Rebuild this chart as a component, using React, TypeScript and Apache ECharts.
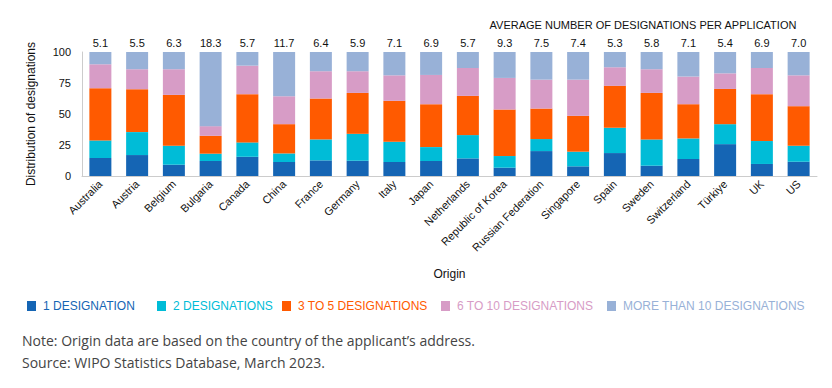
import React, { useEffect, useRef } from "react";
import * as echarts from "echarts";

const categories = [
  "Australia", "Austria", "Belgium", "Bulgaria", "Canada", "China", "France",
  "Germany", "Italy", "Japan", "Netherlands", "Republic of Korea",
  "Russian Federation", "Singapore", "Spain", "Sweden", "Switzerland",
  "Türkiye", "UK", "US",
];

const averages = [
  "5.1", "5.5", "6.3", "18.3", "5.7", "11.7", "6.4", "5.9", "7.1", "6.9",
  "5.7", "9.3", "7.5", "7.4", "5.3", "5.8", "7.1", "5.4", "6.9", "7.0",
];

const oneDesignation = [14.5, 16.9, 9.1, 12.1, 15.5, 11.3, 12.6, 12.3, 11.3, 12.1, 14.2, 6.7, 20.1, 7.8, 18.5, 8.3, 13.7, 25.7, 9.7, 11.5];
const twoDesignations = [14.2, 18.5, 15.3, 5.9, 11.6, 6.9, 16.9, 21.7, 16.3, 11.2, 18.8, 9.4, 9.7, 11.8, 20.4, 21.2, 16.6, 16.1, 18.5, 12.9];
const threeToFive = [42.1, 34.6, 41.0, 14.4, 38.9, 23.6, 33.0, 33.0, 33.0, 34.6, 31.6, 37.5, 24.6, 28.9, 33.8, 37.5, 27.6, 28.4, 37.8, 31.9];
const sixToTen = [19.3, 16.1, 20.7, 7.8, 23.0, 22.5, 22.0, 17.5, 20.6, 23.6, 22.5, 25.5, 23.3, 29.2, 15.0, 19.1, 22.3, 12.6, 21.1, 24.9];
const moreThanTen = [9.9, 13.9, 13.9, 59.8, 11.0, 35.7, 15.5, 15.5, 18.8, 18.5, 12.9, 20.9, 22.3, 22.3, 12.3, 13.9, 19.8, 17.2, 12.9, 18.8];

const seriesNames = [
  "1 DESIGNATION",
  "2 DESIGNATIONS",
  "3 TO 5 DESIGNATIONS",
  "6 TO 10 DESIGNATIONS",
  "MORE THAN 10 DESIGNATIONS",
];
const seriesData = [oneDesignation, twoDesignations, threeToFive, sixToTen, moreThanTen];
const colors = ["#1565b4", "#00bcd7", "#ff5a00", "#d79cc6", "#98b1d7"];

const yTicks = [0, 25, 50, 75, 100];

// layout only: left edge of each legend item
const legendLefts = [27, 157, 282, 441, 607];

const ARIAL = "'Liberation Sans', Arial, sans-serif";

export default function App() {
  const ref = useRef<HTMLDivElement>(null);
  useEffect(() => {
    if (!ref.current) return;
    const chart = echarts.init(ref.current, null, { renderer: "svg" });
    const series = seriesNames.map((name, i) => ({
      name,
      type: "bar",
      stack: "total",
      barWidth: 22,
      data: seriesData[i],
      itemStyle: { color: colors[i] },
      emphasis: { disabled: true },
      label:
        i === seriesNames.length - 1
          ? {
              show: true,
              position: "top",
              distance: 4,
              fontSize: 11,
              fontFamily: ARIAL,
              color: "#111",
              formatter: (p: any) => averages[p.dataIndex],
            }
          : { show: false },
    }));
    const legends = seriesNames.map((n, i) => ({
      left: legendLefts[i],
      top: 300,
      padding: 0,
      icon: "rect",
      itemWidth: 9,
      itemHeight: 10,
      selectedMode: false,
      textStyle: { fontSize: 12, fontFamily: ARIAL, color: colors[i], padding: [0, 0, 0, 2] },
      data: [{ name: n }],
    }));
    chart.setOption({
      animation: false,
      backgroundColor: "#fff",
      title: {
        text: "AVERAGE NUMBER OF DESIGNATIONS PER APPLICATION",
        right: 35,
        top: 19,
        padding: 0,
        textStyle: { fontSize: 11, fontWeight: "normal", fontFamily: ARIAL, color: "#111" },
      },
      grid: { left: 82, right: 15, top: 52, height: 124, containLabel: false },
      legend: legends,
      xAxis: {
        type: "category",
        data: categories,
        name: "Origin",
        nameLocation: "middle",
        nameGap: 92,
        nameTextStyle: { fontSize: 12, fontFamily: ARIAL, color: "#111" },
        axisLine: { lineStyle: { color: "#ccc" } },
        axisTick: { show: false },
        axisLabel: { interval: 0, rotate: 45, fontSize: 11, fontFamily: ARIAL, color: "#111", margin: 6 },
      },
      yAxis: {
        type: "value",
        min: 0,
        max: 100,
        interval: 25,
        name: "Distribution of designations",
        nameLocation: "middle",
        nameGap: 45,
        nameTextStyle: { fontSize: 12, fontFamily: ARIAL, color: "#111" },
        axisLine: { show: true, lineStyle: { color: "#ccc" } },
        axisTick: { show: false },
        splitLine: { show: false },
        axisLabel: {
          fontSize: 11,
          fontFamily: ARIAL,
          color: "#111",
          margin: 11,
          formatter: (v: number) => (yTicks.includes(v) ? String(v) : ""),
        },
      },
      graphic: [
        {
          type: "text",
          left: 22,
          top: 333,
          style: {
            text: "Note: Origin data are based on the country of the applicant’s address.",
            fontSize: 14,
            fontFamily: "'Open Sans', 'Noto Sans', sans-serif",
            fill: "#444",
          },
        },
        {
          type: "text",
          left: 22,
          top: 355,
          style: {
            text: "Source: WIPO Statistics Database, March 2023.",
            fontSize: 14,
            fontFamily: "'Open Sans', 'Noto Sans', sans-serif",
            fill: "#444",
          },
        },
      ],
      series,
    });
    return () => chart.dispose();
  }, []);
  return (
    <div
      ref={ref}
      style={{ position: "fixed", left: 0, top: 0, width: 832, height: 388, background: "#fff" }}
    />
  );
}
